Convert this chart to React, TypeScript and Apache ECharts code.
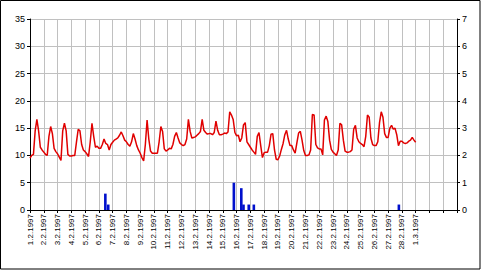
import React, { useEffect, useRef } from "react";
import * as echarts from "echarts";

// Tick labels for the day gridlines (day index 0 = 1.2.1997)
const dayLabels: string[] = [
  "1.2.1997", "2.2.1997", "3.2.1997", "4.2.1997", "5.2.1997", "6.2.1997", "7.2.1997",
  "8.2.1997", "9.2.1997", "10.2.1997", "11.2.1997", "12.2.1997", "13.2.1997", "14.2.1997",
  "15.2.1997", "16.2.1997", "17.2.1997", "18.2.1997", "19.2.1997", "20.2.1997", "21.2.1997",
  "22.2.1997", "23.2.1997", "24.2.1997", "25.2.1997", "26.2.1997", "27.2.1997", "28.2.1997",
  "1.3.1997",
];

// Temperature readings, every 3 hours (00,03,06,09,12,15,18,21) per day
const tempValues: number[] = [
  9.5, 10.0, 10.2, 14.5, 16.6, 14.5, 11.5, 11.0, // 1.2
  10.6, 10.2, 10.0, 13.5, 15.3, 14.0, 11.3, 10.7, // 2.2
  10.3, 9.7, 9.1, 14.5, 15.9, 14.5, 10.2, 9.9, // 3.2
  9.9, 10.0, 10.0, 12.5, 14.8, 14.5, 12.0, 11.0, // 4.2
  10.7, 10.3, 9.8, 12.5, 15.9, 13.5, 11.5, 11.7, // 5.2
  11.3, 11.3, 12.0, 13.0, 12.2, 12.0, 11.0, 12.0, // 6.2
  12.4, 12.8, 13.0, 13.2, 13.7, 14.3, 13.6, 12.8, // 7.2
  12.5, 12.0, 11.7, 12.5, 14.0, 13.0, 11.8, 11.0, // 8.2
  10.4, 9.6, 9.0, 12.0, 16.5, 13.0, 10.8, 10.4, // 9.2
  10.4, 10.4, 10.4, 12.5, 15.3, 14.4, 11.2, 10.8, // 10.2
  11.0, 11.3, 11.2, 12.0, 13.5, 14.2, 13.2, 12.3, // 11.2
  12.0, 11.8, 12.0, 13.0, 16.6, 14.4, 13.2, 13.3, // 12.2
  13.4, 13.7, 14.0, 14.4, 16.6, 14.6, 14.2, 13.9, // 13.2
  14.0, 14.0, 13.8, 14.2, 16.3, 14.6, 13.8, 13.8, // 14.2
  13.9, 14.1, 14.0, 14.3, 18.0, 17.4, 16.6, 14.2, // 15.2
  13.6, 13.7, 12.5, 13.2, 15.6, 16.0, 12.5, 12.0, // 16.2
  11.5, 11.0, 10.6, 10.2, 13.5, 14.2, 11.8, 9.6, // 17.2
  10.5, 10.6, 10.6, 11.8, 13.9, 14.0, 11.0, 9.3, // 18.2
  9.2, 9.9, 11.1, 12.2, 13.8, 14.6, 13.0, 11.8, // 19.2
  11.8, 11.0, 10.4, 12.3, 14.1, 14.4, 12.8, 10.9, // 20.2
  10.0, 10.0, 10.1, 11.0, 17.5, 17.4, 12.0, 11.4, // 21.2
  11.2, 11.2, 10.1, 16.5, 17.2, 16.2, 12.8, 11.1, // 22.2
  10.6, 10.3, 10.0, 11.0, 15.9, 15.6, 12.8, 10.8, // 23.2
  10.6, 10.6, 10.7, 11.0, 14.8, 15.5, 13.2, 12.5, // 24.2
  12.2, 12.0, 11.6, 13.5, 17.4, 17.0, 13.2, 12.0, // 25.2
  11.8, 11.8, 12.5, 16.0, 18.0, 17.0, 14.0, 13.3, // 26.2
  13.3, 15.0, 15.5, 14.8, 15.0, 13.8, 11.8, 12.6, // 27.2
  12.6, 12.3, 12.2, 12.3, 12.6, 12.8, 13.3, 12.8, // 28.2
  12.4, // 1.3 00:00
];
const readingsPerDay = 8;

// Precipitation bars (right axis): time in days since 1.2.1997 and amount
const rainTimes: number[] = [5.47, 5.68, 14.8, 15.34, 15.5, 15.88, 16.25, 26.78];
const rainValues: number[] = [0.6, 0.2, 1.0, 0.8, 0.2, 0.2, 0.2, 0.2];

const FONT = "Arial, 'Liberation Sans', sans-serif";

export default function App() {
  const ref = useRef<HTMLDivElement>(null);

  useEffect(() => {
    if (!ref.current) return;
    const chart = echarts.init(ref.current, undefined, { renderer: "svg" });

    const lineData = tempValues.map((v, i) => [i / readingsPerDay, v]);
    const barData = rainTimes.map((t, i) => [t, rainValues[i]]);

    chart.setOption({
      animation: false,
      backgroundColor: "#ffffff",
      textStyle: { fontFamily: FONT, color: "#000000" },
      grid: { left: 30, right: 24, top: 19, bottom: 61, containLabel: false },
      graphic: [
        {
          type: "rect",
          shape: { x: 0.5, y: 0.5, width: 479.5, height: 268.5 },
          style: { fill: "none", stroke: "#000000", lineWidth: 1 },
          silent: true,
          z: 100,
        },
      ],
      xAxis: {
        type: "value",
        min: 0,
        max: 31,
        interval: 1,
        axisLine: { show: true, onZero: false, lineStyle: { color: "#000000", width: 1 } },
        axisTick: { show: true, length: 3, lineStyle: { color: "#000000" } },
        splitLine: { show: true, lineStyle: { color: "#c0c0c0", width: 1 } },
        axisLabel: {
          rotate: 90,
          margin: 4,
          fontSize: 8,
          color: "#000000",
          fontFamily: FONT,
          showMinLabel: true,
          showMaxLabel: true,
          formatter: (v: number) => {
            const k = Math.round(v);
            return k >= 0 && k < dayLabels.length ? dayLabels[k] : "";
          },
        },
      },
      yAxis: [
        {
          type: "value",
          min: 0,
          max: 35,
          interval: 5,
          position: "left",
          axisLine: { show: true, lineStyle: { color: "#000000", width: 1 } },
          axisTick: { show: true, length: 3, lineStyle: { color: "#000000" } },
          splitLine: { show: true, lineStyle: { color: "#c0c0c0", width: 1 } },
          axisLabel: { fontSize: 9, margin: 5, color: "#000000", fontFamily: FONT },
        },
        {
          type: "value",
          min: 0,
          max: 7,
          interval: 1,
          position: "right",
          axisLine: { show: true, lineStyle: { color: "#000000", width: 1 } },
          axisTick: { show: true, length: 3, lineStyle: { color: "#000000" } },
          splitLine: { show: false },
          axisLabel: { fontSize: 9, margin: 5, color: "#000000", fontFamily: FONT },
        },
      ],
      series: [
        {
          type: "bar",
          yAxisIndex: 1,
          data: barData,
          barWidth: 2.6,
          itemStyle: { color: "#0010cc" },
          z: 2,
        },
        {
          type: "line",
          yAxisIndex: 0,
          data: lineData,
          showSymbol: false,
          symbol: "none",
          lineStyle: { color: "#e00000", width: 1.5 },
          z: 3,
        },
      ],
    });

    return () => chart.dispose();
  }, []);

  return (
    <div
      ref={ref}
      style={{ position: "fixed", left: 0, top: 0, width: 481, height: 271, background: "#fff" }}
    />
  );
}
